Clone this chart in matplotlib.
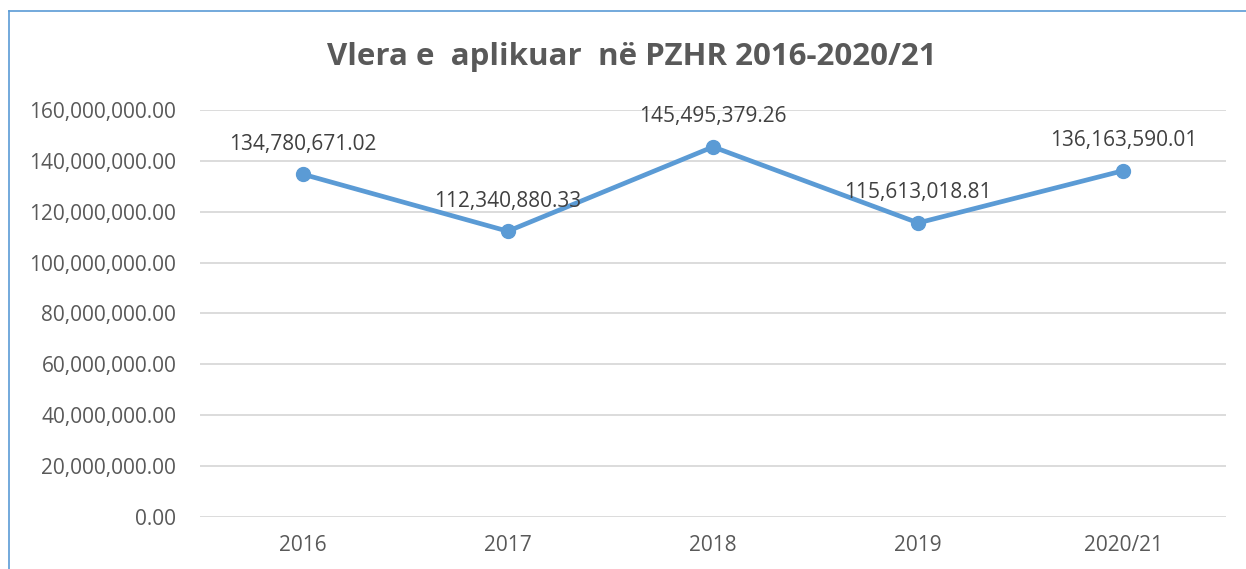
import matplotlib.pyplot as plt
from matplotlib.ticker import FuncFormatter
from matplotlib.lines import Line2D

categories = ['2016', '2017', '2018', '2019', '2020/21']
values = [134780671.02, 112340880.33, 145495379.26, 115613018.81, 136163590.01]
yticks = [0, 20e6, 40e6, 60e6, 80e6, 100e6, 120e6, 140e6, 160e6]

plt.rcParams['font.family'] = ['Open Sans', 'DejaVu Sans']

fig = plt.figure(figsize=(12.46, 5.69), dpi=100)
ax = fig.add_axes([0.1605, 0.0914, 0.8235, 0.7153])

x = list(range(len(categories)))
ax.plot(x, values, color='#5B9BD5', linewidth=3.4, marker='o', markersize=10,
        solid_capstyle='round', zorder=3)

for xi, v in zip(x, values):
    ax.annotate(f'{v:,.2f}', (xi, v), xytext=(0, 14), textcoords='offset points',
                ha='center', va='bottom', fontsize=15, color='#404040', zorder=4)

ax.set_xlim(-0.5, len(categories) - 0.5)
ax.set_ylim(0, 160e6)
ax.set_yticks(yticks)
ax.yaxis.set_major_formatter(FuncFormatter(lambda v, p: f'{v:,.2f}'))
ax.set_xticks(x)
ax.set_xticklabels(categories)
ax.tick_params(axis='both', length=0, labelsize=15, labelcolor='#595959')
ax.tick_params(axis='y', pad=17)
ax.tick_params(axis='x', pad=13)
ax.grid(axis='y', color='#D9D9D9', linewidth=1.3)
ax.set_axisbelow(True)
for s in ax.spines.values():
    s.set_visible(False)

fig.text(0.507, 0.9, 'Vlera e  aplikuar  në PZHR 2016-2020/21', ha='center', va='center',
         fontsize=22.5, fontweight='bold', color='#595959')

# chart frame, only left and top edges show
fig.add_artist(Line2D([9 / 1246, 9 / 1246], [0, 1 - 11 / 569], transform=fig.transFigure,
                      color='#5B9BD5', linewidth=1.2))
fig.add_artist(Line2D([9 / 1246, 1], [1 - 11 / 569, 1 - 11 / 569], transform=fig.transFigure,
                      color='#5B9BD5', linewidth=1.2))

fig.savefig('out.png', dpi=100)
